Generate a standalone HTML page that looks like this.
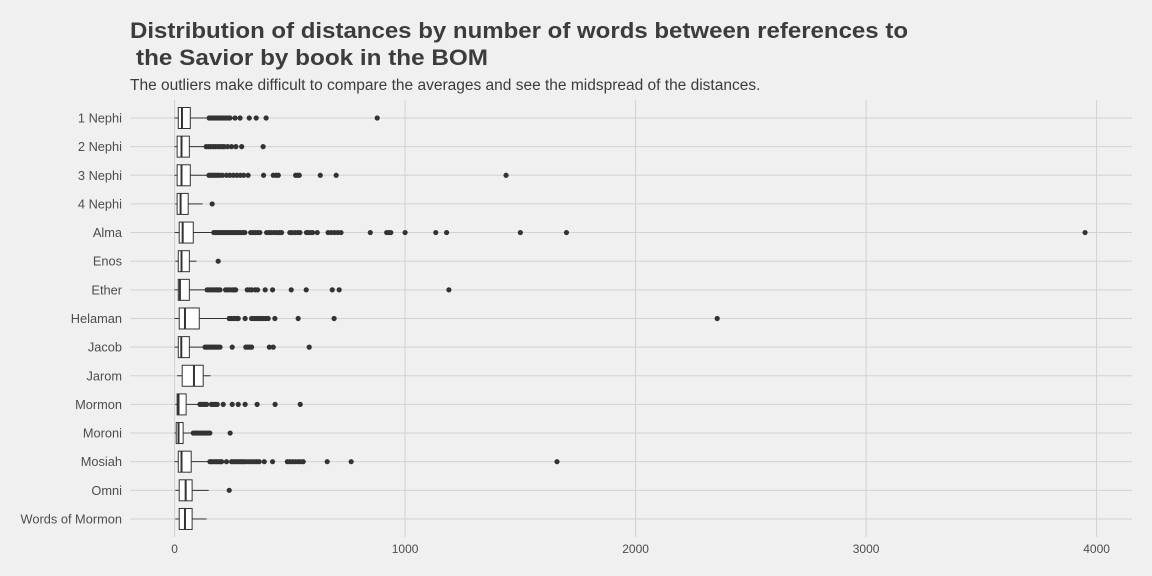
<!DOCTYPE html>
<html><head><meta charset="utf-8"><style>
body{margin:0;background:#f0f0f0;}
svg{display:block;font-family:"Liberation Sans",Arial,sans-serif;}
</style></head><body>
<svg id="chart" width="1152" height="576" xmlns="http://www.w3.org/2000/svg">
<rect width="1152" height="576" fill="#f0f0f0"/>
<text x="130" y="38" font-size="22.5" font-weight="bold" fill="#3c3c3c" textLength="778" lengthAdjust="spacingAndGlyphs">Distribution of distances by number of words between references to</text>
<text x="136" y="65" font-size="22.5" font-weight="bold" fill="#3c3c3c" textLength="352" lengthAdjust="spacingAndGlyphs">the Savior by book in the BOM</text>
<text x="130" y="90" font-size="15.5" fill="#3c3c3c">The outliers make difficult to compare the averages and see the midspread of the distances.</text>
<g id="grid"></g><g id="marks"></g><g id="labels"></g>
</svg>
<script>
const categories=["1 Nephi","2 Nephi","3 Nephi","4 Nephi","Alma","Enos","Ether","Helaman","Jacob","Jarom","Mormon","Moroni","Mosiah","Omni","Words of Mormon"];
const whiskerLow=[0,0,0,3,0,3,0,0,0,11,3,0,0,3,3];
const q1=[16,11,11,11,20,16,16,20,16,33,11,7,16,20,20];
const medians=[32,30,30,26,35,30,23,45,29,84,17,17,30,48,45];
const q3=[68,64,68,59,81,64,64,107,64,124,50,37,72,76,76];
const whiskerHigh=[146,133,146,121,167,95,139,226,127,156,107,76,150,148,139];
const outliers=[
[150,158,166,175,183,192,200,210,220,230,240,262,284,324,354,397,879],
[137,147,157,167,177,187,197,207,215,230,247,266,291,384],
[149,158,167,176,185,195,207,225,240,255,270,285,300,319,386,428,440,450,525,533,541,632,701,1438],
[163],
[170,178,186,194,202,210,218,226,234,242,250,258,266,274,282,290,298,305,330,340,350,360,370,399,410,420,432,444,455,464,500,510,522,534,544,572,580,590,599,619,666,680,694,708,722,849,920,930,938,1000,1133,1180,1500,1700,3950],
[189],
[141,150,158,166,175,183,189,197,221,230,240,250,258,265,315,325,335,350,360,393,425,506,571,684,714,1190],
[237,247,257,266,276,306,334,345,355,365,375,385,395,406,435,536,692,2354],
[132,140,148,156,164,172,180,188,197,250,309,318,326,334,411,428,584],
[],
[110,120,130,139,160,168,176,185,211,250,276,306,358,436,545],
[81,89,97,105,113,121,129,137,145,153,241],
[153,160,168,176,184,192,200,204,225,247,255,263,271,279,287,295,303,312,324,334,345,356,367,389,425,489,500,512,524,536,547,558,662,766,1659],
[237],
[]
];
const xTicks=[0,1000,2000,3000,4000];
const NS="http://www.w3.org/2000/svg";
const x=v=>174.6+v*0.2305;
const y=i=>118+i*28.64;
function mk(tag,attrs,parent){const e=document.createElementNS(NS,tag);for(const k in attrs)e.setAttribute(k,attrs[k]);parent.appendChild(e);return e;}
const grid=document.getElementById('grid'),marks=document.getElementById('marks'),labels=document.getElementById('labels');
xTicks.forEach(t=>{
 const l=mk('line',{x1:x(t),x2:x(t),y1:100,y2:537,stroke:'#d2d2d2','stroke-width':1},grid);
 
 
 const tx=mk('text',{x:x(t),y:553,'font-size':12,fill:'#4d4d4d','text-anchor':'middle'},labels);
 tx.textContent=t;
 
 
});
categories.forEach((c,i)=>{
 const cy=y(i);
 const g=mk('line',{x1:130,x2:1132,y1:cy,y2:cy,stroke:'#d2d2d2','stroke-width':1},grid);
 
 
 const tl=mk('text',{x:122,y:cy+4.5,'font-size':12.8,fill:'#4d4d4d','text-anchor':'end'},labels);
 tl.textContent=c;
 
 
 const grp=mk('g',{},marks);
 
 
 mk('line',{x1:x(whiskerLow[i]),x2:x(q1[i]),y1:cy,y2:cy,stroke:'#333','stroke-width':1},grp);
 mk('line',{x1:x(q3[i]),x2:x(whiskerHigh[i]),y1:cy,y2:cy,stroke:'#333','stroke-width':1},grp);
 mk('rect',{x:x(q1[i]),y:cy-10.5,width:Math.max(1,x(q3[i])-x(q1[i])),height:21,fill:'#fff',stroke:'#333','stroke-width':1},grp);
 mk('line',{x1:x(medians[i]),x2:x(medians[i]),y1:cy-10.5,y2:cy+10.5,stroke:'#333','stroke-width':2},grp);
 outliers[i].forEach(v=>{
  const p=mk('circle',{cx:x(v),cy:cy,r:2.6,fill:'#333'},grp);
  
  
 });
});
</script>
</body></html>
